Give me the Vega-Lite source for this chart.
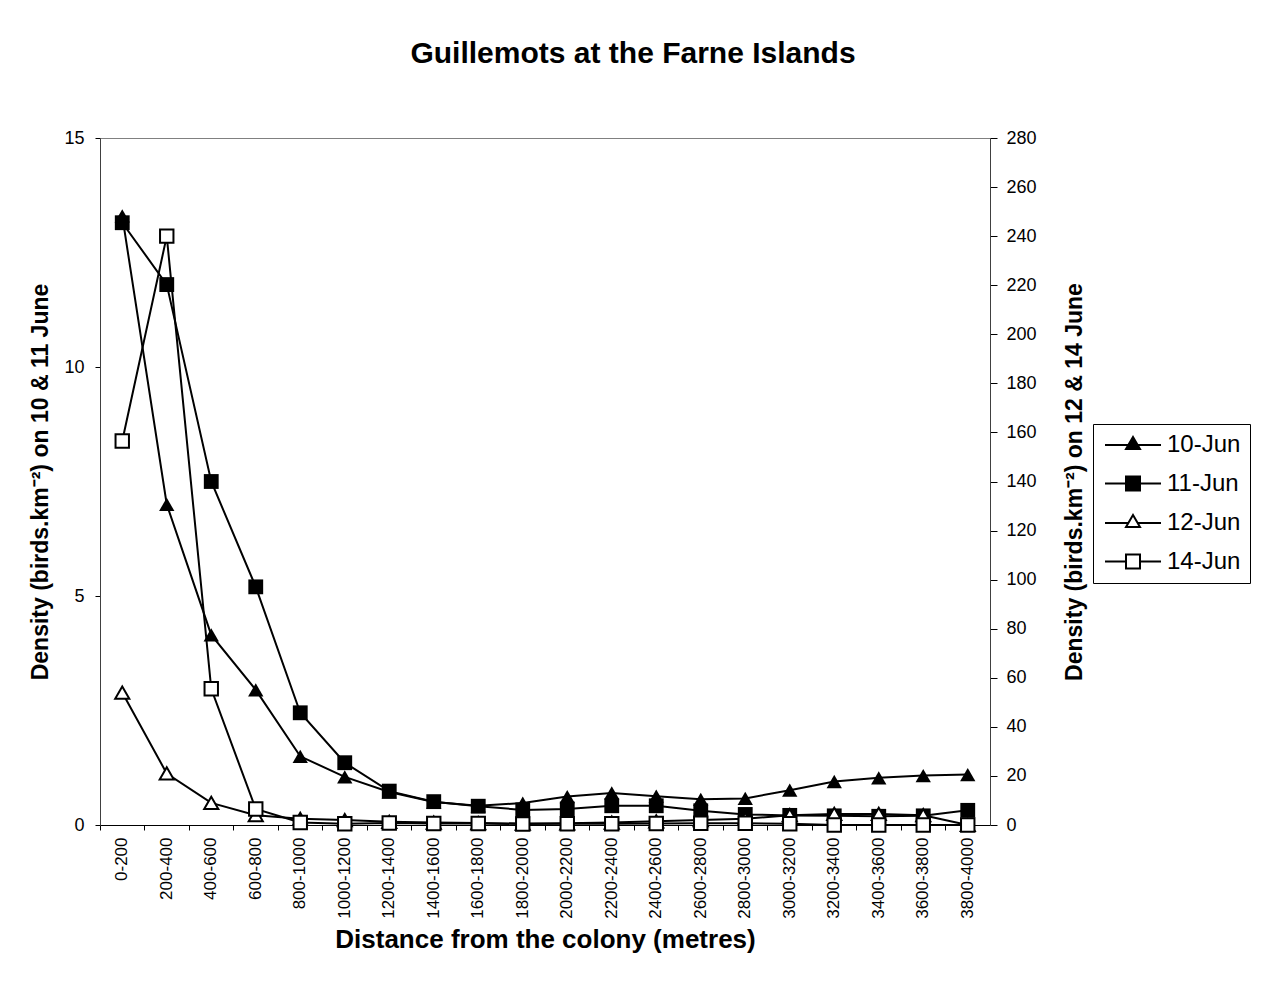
{
  "$schema": "https://vega.github.io/schema/vega-lite/v6.json",
  "width": 890,
  "height": 687,
  "autosize": {"type": "none"},
  "padding": {"left": 100, "top": 138, "right": 276, "bottom": 164},
  "background": "white",
  "title": {"text": "Guillemots at the Farne Islands", "fontSize": 30, "font": "Liberation Sans", "fontWeight": "bold", "anchor": "middle", "dx": 88, "offset": 60, "color": "black"},
  "data": {"values": [
    {"d": "0-200", "s": "10-Jun", "v": 13.3}, {"d": "200-400", "s": "10-Jun", "v": 7.0}, {"d": "400-600", "s": "10-Jun", "v": 4.15}, {"d": "600-800", "s": "10-Jun", "v": 2.95}, {"d": "800-1000", "s": "10-Jun", "v": 1.5}, {"d": "1000-1200", "s": "10-Jun", "v": 1.05}, {"d": "1200-1400", "s": "10-Jun", "v": 0.72}, {"d": "1400-1600", "s": "10-Jun", "v": 0.5}, {"d": "1600-1800", "s": "10-Jun", "v": 0.42}, {"d": "1800-2000", "s": "10-Jun", "v": 0.48}, {"d": "2000-2200", "s": "10-Jun", "v": 0.62}, {"d": "2200-2400", "s": "10-Jun", "v": 0.7}, {"d": "2400-2600", "s": "10-Jun", "v": 0.63}, {"d": "2600-2800", "s": "10-Jun", "v": 0.56}, {"d": "2800-3000", "s": "10-Jun", "v": 0.58}, {"d": "3000-3200", "s": "10-Jun", "v": 0.76}, {"d": "3200-3400", "s": "10-Jun", "v": 0.95}, {"d": "3400-3600", "s": "10-Jun", "v": 1.03}, {"d": "3600-3800", "s": "10-Jun", "v": 1.08}, {"d": "3800-4000", "s": "10-Jun", "v": 1.1},
    {"d": "0-200", "s": "11-Jun", "v": 13.15}, {"d": "200-400", "s": "11-Jun", "v": 11.8}, {"d": "400-600", "s": "11-Jun", "v": 7.5}, {"d": "600-800", "s": "11-Jun", "v": 5.2}, {"d": "800-1000", "s": "11-Jun", "v": 2.45}, {"d": "1000-1200", "s": "11-Jun", "v": 1.36}, {"d": "1200-1400", "s": "11-Jun", "v": 0.74}, {"d": "1400-1600", "s": "11-Jun", "v": 0.51}, {"d": "1600-1800", "s": "11-Jun", "v": 0.41}, {"d": "1800-2000", "s": "11-Jun", "v": 0.33}, {"d": "2000-2200", "s": "11-Jun", "v": 0.35}, {"d": "2200-2400", "s": "11-Jun", "v": 0.42}, {"d": "2400-2600", "s": "11-Jun", "v": 0.42}, {"d": "2600-2800", "s": "11-Jun", "v": 0.31}, {"d": "2800-3000", "s": "11-Jun", "v": 0.23}, {"d": "3000-3200", "s": "11-Jun", "v": 0.21}, {"d": "3200-3400", "s": "11-Jun", "v": 0.2}, {"d": "3400-3600", "s": "11-Jun", "v": 0.19}, {"d": "3600-3800", "s": "11-Jun", "v": 0.2}, {"d": "3800-4000", "s": "11-Jun", "v": 0.32},
    {"d": "0-200", "s": "12-Jun", "v": 54}, {"d": "200-400", "s": "12-Jun", "v": 21}, {"d": "400-600", "s": "12-Jun", "v": 9}, {"d": "600-800", "s": "12-Jun", "v": 4}, {"d": "800-1000", "s": "12-Jun", "v": 2.5}, {"d": "1000-1200", "s": "12-Jun", "v": 2}, {"d": "1200-1400", "s": "12-Jun", "v": 1.3}, {"d": "1400-1600", "s": "12-Jun", "v": 1}, {"d": "1600-1800", "s": "12-Jun", "v": 0.8}, {"d": "1800-2000", "s": "12-Jun", "v": 0.6}, {"d": "2000-2200", "s": "12-Jun", "v": 0.7}, {"d": "2200-2400", "s": "12-Jun", "v": 1}, {"d": "2400-2600", "s": "12-Jun", "v": 1.5}, {"d": "2600-2800", "s": "12-Jun", "v": 2}, {"d": "2800-3000", "s": "12-Jun", "v": 2.5}, {"d": "3000-3200", "s": "12-Jun", "v": 4}, {"d": "3200-3400", "s": "12-Jun", "v": 4.5}, {"d": "3400-3600", "s": "12-Jun", "v": 4.5}, {"d": "3600-3800", "s": "12-Jun", "v": 4}, {"d": "3800-4000", "s": "12-Jun", "v": 0},
    {"d": "0-200", "s": "14-Jun", "v": 156.5}, {"d": "200-400", "s": "14-Jun", "v": 240}, {"d": "400-600", "s": "14-Jun", "v": 55.5}, {"d": "600-800", "s": "14-Jun", "v": 6.5}, {"d": "800-1000", "s": "14-Jun", "v": 1}, {"d": "1000-1200", "s": "14-Jun", "v": 0.5}, {"d": "1200-1400", "s": "14-Jun", "v": 0.8}, {"d": "1400-1600", "s": "14-Jun", "v": 0.6}, {"d": "1600-1800", "s": "14-Jun", "v": 0.6}, {"d": "1800-2000", "s": "14-Jun", "v": 0.4}, {"d": "2000-2200", "s": "14-Jun", "v": 0.5}, {"d": "2200-2400", "s": "14-Jun", "v": 0.5}, {"d": "2400-2600", "s": "14-Jun", "v": 0.6}, {"d": "2600-2800", "s": "14-Jun", "v": 0.7}, {"d": "2800-3000", "s": "14-Jun", "v": 0.7}, {"d": "3000-3200", "s": "14-Jun", "v": 0.5}, {"d": "3200-3400", "s": "14-Jun", "v": 0}, {"d": "3400-3600", "s": "14-Jun", "v": 0}, {"d": "3600-3800", "s": "14-Jun", "v": 0}, {"d": "3800-4000", "s": "14-Jun", "v": 0}
  ]},
  "encoding": {
    "x": {
      "field": "d", "type": "ordinal",
      "scale": {"type": "band", "paddingInner": 0, "paddingOuter": 0, "domain": ["0-200","200-400","400-600","600-800","800-1000","1000-1200","1200-1400","1400-1600","1600-1800","1800-2000","2000-2200","2200-2400","2400-2600","2600-2800","2800-3000","3000-3200","3200-3400","3400-3600","3600-3800","3800-4000"]},
      "axis": {"title": "Distance from the colony (metres)", "titleFontSize": 26, "titleFontWeight": "bold", "titlePadding": 8, "labelAngle": -90, "labelFontSize": 17, "labelPadding": 7, "tickSize": 5, "bandPosition": 0, "grid": false, "domainColor": "black", "tickColor": "black", "labelColor": "black", "titleColor": "black"}
    }
  },
  "layer": [
    {
      "encoding": {
        "y": {"field": "v", "type": "quantitative", "scale": {"domain": [0, 15], "nice": false, "zero": true},
          "axis": {"orient": "left", "title": "Density (birds.km⁻²) on 10 & 11  June", "values": [0, 5, 10, 15], "titleFontSize": 23, "titleFontWeight": "bold", "titlePadding": 11, "labelFontSize": 18, "labelPadding": 11, "tickSize": 5, "grid": false, "domainColor": "#404040", "tickColor": "black", "labelColor": "black", "titleColor": "black"}}
      },
      "layer": [
        {"transform": [{"filter": "datum.s === '10-Jun' || datum.s === '11-Jun'"}], "mark": {"type": "line", "color": "black", "strokeWidth": 2}, "encoding": {"detail": {"field": "s"}}},
        {"transform": [{"filter": "datum.s === '10-Jun'"}], "mark": {"type": "point", "shape": "triangle-up", "filled": true, "color": "black", "size": 235, "opacity": 1}},
        {"transform": [{"filter": "datum.s === '11-Jun'"}], "mark": {"type": "point", "shape": "square", "filled": true, "color": "black", "size": 220, "opacity": 1}}
      ]
    },
    {
      "encoding": {
        "y": {"field": "v", "type": "quantitative", "scale": {"domain": [0, 280], "nice": false, "zero": true},
          "axis": {"orient": "right", "title": "Density (birds.km⁻²) on 12 & 14 June", "titleAngle": 270, "values": [0,20,40,60,80,100,120,140,160,180,200,220,240,260,280], "titleFontSize": 23, "titleFontWeight": "bold", "titlePadding": 50, "labelFontSize": 18, "labelPadding": 9, "tickSize": 7, "grid": false, "domainColor": "#404040", "tickColor": "black", "labelColor": "black", "titleColor": "black"}}
      },
      "layer": [
        {"transform": [{"filter": "datum.s === '12-Jun' || datum.s === '14-Jun'"}], "mark": {"type": "line", "color": "black", "strokeWidth": 2}, "encoding": {"detail": {"field": "s"}}},
        {"transform": [{"filter": "datum.s === '12-Jun'"}], "mark": {"type": "point", "shape": "triangle-up", "filled": true, "fill": "white", "stroke": "black", "strokeWidth": 2, "size": 200, "opacity": 1}},
        {"transform": [{"filter": "datum.s === '14-Jun'"}], "mark": {"type": "point", "shape": "square", "filled": true, "fill": "white", "stroke": "black", "strokeWidth": 2, "size": 180, "opacity": 1}}
      ]
    },
    {
      "transform": [{"filter": "datum.v < 0"}],
      "mark": {"type": "point", "filled": true, "strokeWidth": 2, "opacity": 1},
      "encoding": {
        "shape": {"field": "s", "type": "nominal", "title": null,
          "scale": {"domain": ["10-Jun","11-Jun","12-Jun","14-Jun"], "range": ["M-4,0L4,0M0,-1.15L1,0.58L-1,0.58Z", "M-4,0L4,0M-1,-1L1,-1L1,1L-1,1Z", "M-4,0L-0.67,0M0.67,0L4,0M0,-1.15L1,0.58L-1,0.58Z", "M-4,0L-1,0M1,0L4,0M-1,-1L1,-1L1,1L-1,1Z"]},
          "legend": {"orient": "none", "legendX": 993, "legendY": 286, "strokeColor": "black", "fillColor": "white", "padding": 9, "symbolSize": 196, "symbolStrokeWidth": 2, "symbolOffset": 19, "labelOffset": 22, "labelFontSize": 24, "labelColor": "black", "rowPadding": 14.5}},
        "fill": {"field": "s", "type": "nominal", "title": null,
          "scale": {"domain": ["10-Jun","11-Jun","12-Jun","14-Jun"], "range": ["black","black","white","white"]},
          "legend": {"orient": "none", "legendX": 993, "legendY": 286, "strokeColor": "black", "fillColor": "white", "padding": 9, "symbolSize": 196, "symbolStrokeWidth": 2, "symbolOffset": 19, "labelOffset": 22, "labelFontSize": 24, "labelColor": "black", "rowPadding": 14.5}},
        "stroke": {"field": "s", "type": "nominal", "title": null,
          "scale": {"domain": ["10-Jun","11-Jun","12-Jun","14-Jun"], "range": ["black","black","black","black"]},
          "legend": {"orient": "none", "legendX": 993, "legendY": 286, "strokeColor": "black", "fillColor": "white", "padding": 9, "symbolSize": 196, "symbolStrokeWidth": 2, "symbolOffset": 19, "labelOffset": 22, "labelFontSize": 24, "labelColor": "black", "rowPadding": 14.5}}
      }
    }
  ],
  "resolve": {"scale": {"y": "independent"}},
  "config": {
    "font": "Liberation Sans",
    "view": {"stroke": "#808080", "strokeWidth": 1},
    "axis": {"labelFont": "Liberation Sans", "titleFont": "Liberation Sans"},
    "legend": {"labelFont": "Liberation Sans"}
  }
}
